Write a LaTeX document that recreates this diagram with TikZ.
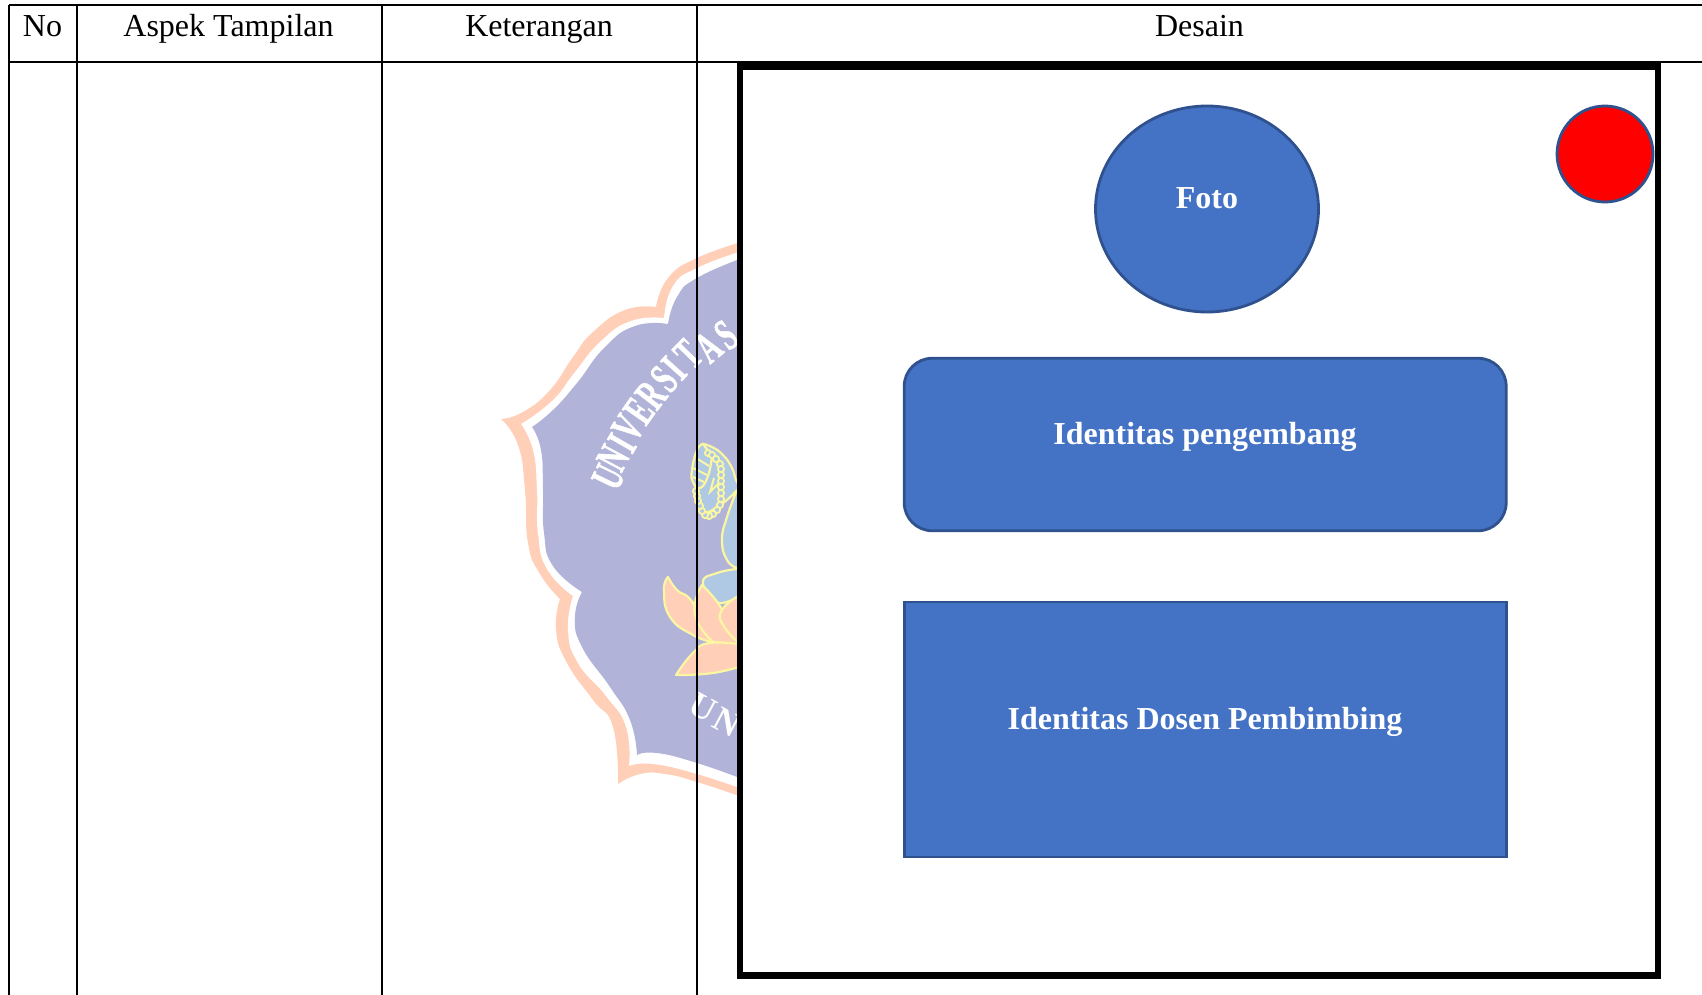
\documentclass[tikz,border=0pt]{standalone}
\usepackage{fontspec}
\setmainfont{Liberation Serif}
\newfontfamily\arcfont[FakeStretch=.6,FakeBold=1.2]{Liberation Serif}
\usetikzlibrary{shapes.geometric}
\definecolor{blueshape}{HTML}{4472C4}
\definecolor{blueedge}{HTML}{2F528F}
\definecolor{peach}{HTML}{FFCFB8}
\definecolor{lilac}{HTML}{B1B3D8}
\definecolor{paleyel}{HTML}{FBF6A2}
\definecolor{paleblue}{HTML}{AFC8E3}
\tikzset{
  x=1pt,y=-1pt,
  rule/.style={line width=2.3pt,draw=black},
  head/.style={anchor=base,font=\fontsize{32}{38}\selectfont,text=black,inner sep=0pt},
  shapetext/.style={anchor=base,font=\fontsize{32}{38}\selectfont\bfseries,text=white,inner sep=0pt},
  shapebox/.style={draw=blueedge,fill=blueshape,line width=2.8pt,inner sep=0pt,outer sep=0pt},
  arcletter/.style={font=\fontsize{45}{45}\selectfont\arcfont\bfseries,text=white,inner sep=0pt},
  lowletter/.style={font=\fontsize{35}{35}\selectfont\bfseries,text=white,inner sep=0pt},
  petal/.style={fill=peach,draw=paleyel,line width=2.2pt,line join=round},
  palm/.style={fill=paleblue,draw=paleyel,line width=2.2pt,line join=round},
  bead/.style={fill=paleblue,draw=paleyel,line width=1.8pt},
  edge/.style={smooth,tension=.85}
}
\begin{document}
\begin{tikzpicture}
\useasboundingbox (0,0) rectangle (1702,995);
\fill[white] (0,0) rectangle (1702,995);
% emblem: peach band
\fill[peach] plot[edge] coordinates {(745,241)(697,258)(668,278)(656,307)}
 -- plot[edge] coordinates {(656,307)(625,310)(593,332)(573,357)(550,390)(523,412)(501,419)}
 -- plot[edge] coordinates {(501,419)(518,445)(525,490)(528,543)(540,574)(560,599)}
 -- plot[edge] coordinates {(560,599)(556,630)(567,663)(593,700)(613,727)(618,784)}
 -- plot[edge] coordinates {(618,784)(640,774)(665,774)(697,782)(745,798)} -- cycle;
% white band
\fill[white] plot[edge] coordinates {(745,250)(697,268)(673,286)(664,318)}
 -- plot[edge] coordinates {(664,318)(631,321)(601,341)(575,372)(552,401)(521,424)}
 -- plot[edge] coordinates {(521,424)(533,450)(537,490)(538,533)(547,569)(573,596)}
 -- plot[edge] coordinates {(573,596)(568,630)(578,663)(606,696)(626,727)(629,766)}
 -- plot[edge] coordinates {(629,766)(653,764)(697,774)(745,790)} -- cycle;
% lilac field
\fill[lilac] plot[edge] coordinates {(745,257)(697,278)(677,297)(668,324)}
 -- plot[edge] coordinates {(668,324)(635,326)(605,347)(577,383)(553,410)(532,427)}
 -- plot[edge] coordinates {(532,427)(541,450)(543,490)(544,533)(553,566)(582,592)}
 -- plot[edge] coordinates {(582,592)(575,617)(582,647)(610,687)(630,720)(637,755)}
 -- plot[edge] coordinates {(637,755)(657,753)(697,763)(745,780)} -- cycle;
% lettering
\foreach \n/\t/\px/\py/\r in {a/U/608.3/477/64,b/N/613/458/62,c/I/622/443/60,d/V/628/428/58,e/E/639/411/55,f/R/651/395/52,g/S/664/379/50,h/I/674/368/48,i/T/688/354/46,j/A/708/347/40,k/S/726/335/36}{
  \node[arcletter,rotate=\r] (arc\n) at (\px,\py) {\t};
}
\node[lowletter,rotate=-28] (lowu) at (703,707) {U};
\node[lowletter,rotate=-28] (lown) at (727,722) {N};
% hand
\draw[palm] plot[edge] coordinates {(703,444)(712,447)(723,455)(732,468)(737,482)(745,490)}
 -- (745,560) -- (737,568) -- plot[edge] coordinates {(737,568)(727,560)(722,540)(727,517)(737,490)}
 -- plot[edge] coordinates {(737,490)(720,505)(702,510)(698,480)(704,465)(703,444)} -- cycle;
\draw[palm] plot[edge] coordinates {(703,444)(697,450)(692,470)(693,482)(700,488)(708,476)(712,456)} -- cycle;
\draw[draw=paleyel,line width=2pt] (696,458) -- (709,466) (693,468) -- (707,475) (693,477) -- (704,482) (714,478) -- (710,492) -- (722,480);
\foreach \i/\px/\py in {1/708/453,2/712/455,3/716/459,4/720/464,5/721/469,6/721/475,7/721/481,8/721/487,9/721/493,10/721/499,11/720/505,12/717/510,13/713/514,14/709/516,15/705/515,16/702/511,17/700/506,18/698/501,19/697/496,20/696/491}{
  \node[bead,circle,minimum size=6.2pt,inner sep=0pt] (bead\i) at (\px,\py) {};
}
% lotus
\draw[palm] plot[edge] coordinates {(745,568)(717,573)(703,583)(718,603)(745,592)} -- cycle;
\draw[petal] plot[edge] coordinates {(668,577)(664,590)(670,617)(693,635)(713,642)}
 -- plot[edge] coordinates {(713,642)(693,603)(677,590)(668,577)} -- cycle;
\draw[petal] plot[edge] coordinates {(702,585)(695,603)(698,623)(713,642)}
 -- (745,645) -- plot[edge] coordinates {(745,645)(730,625)(718,603)(702,585)} -- cycle;
\draw[petal] plot[edge] coordinates {(745,592)(722,610)(725,628)(745,648)} -- cycle;
\draw[petal] plot[edge] coordinates {(676,675)(693,653)(710,643)(745,645)} -- (745,665)
 -- plot[edge] coordinates {(745,665)(713,673)(676,675)} -- cycle;
% table
\coordinate (tl) at (9,5); \coordinate (tr) at (1702,5);
\coordinate (hl) at (9,62); \coordinate (hr) at (1702,62);
\coordinate (bl) at (9,995); \coordinate (c1t) at (77,5); \coordinate (c1b) at (77,995);
\coordinate (c2t) at (382,5); \coordinate (c2b) at (382,995);
\coordinate (c3t) at (697,5); \coordinate (c3b) at (697,995);
\draw[rule] (tl) -- (tr);
\draw[rule] (hl) -- (hr);
\draw[rule] (tl) -- (bl);
\draw[rule] (c1t) -- (c1b);
\draw[rule] (c2t) -- (c2b);
\draw[rule] (c3t) -- (c3b);
\node[head] (no) at (42.5,37) {No};
\node[head] (aspek) at (228.5,37) {Aspek Tampilan};
\node[head] (ket) at (539,37) {Keterangan};
\node[head] (des) at (1199.5,37) {Desain};
% frame
\draw[fill=white,draw=black,line width=6.5pt] (740,66.3) rectangle (1658,975.5);
\node[shapebox,ellipse,minimum width=223pt,minimum height=206pt] (foto) at (1207,209) {};
\node[shapebox,circle,minimum size=96pt,fill=red] (dot) at (1605,154) {};
\node[shapebox,rectangle,rounded corners=28pt,minimum width=602pt,minimum height=172.5pt] (ident) at (1205.2,444.5) {};
\node[shapebox,rectangle,minimum width=602pt,minimum height=255pt] (dosen) at (1205.2,729.5) {};
\node[shapetext] (fototext) at (1207,208) {Foto};
\node[shapetext] (identtext) at (1205,444) {Identitas pengembang};
\node[shapetext] (dosentext) at (1205,729) {Identitas Dosen Pembimbing};
\end{tikzpicture}
\end{document}
